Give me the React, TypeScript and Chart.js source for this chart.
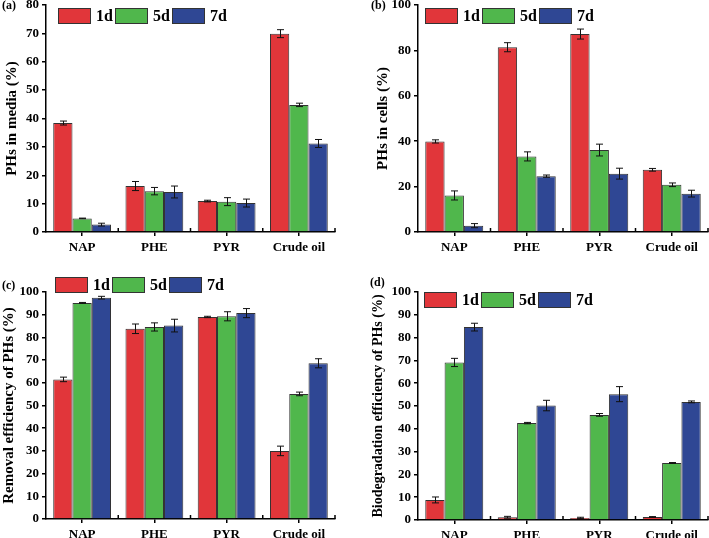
import React, { useEffect, useRef } from "react";
import { Chart, registerables } from "chart.js";

Chart.register(...registerables);

const categories = ["NAP", "PHE", "PYR", "Crude oil"];
const seriesLabels = ["1d", "5d", "7d"];
const seriesColors = ["#E1363A", "#50B74C", "#2F4794"];

// (a) PHs in media (%)
const mediaD1 = [38.4, 16.2, 10.9, 69.9];
const mediaD5 = [4.8, 14.4, 10.7, 44.8];
const mediaD7 = [2.6, 14.1, 10.2, 31.2];
const mediaErr1 = [0.7, 1.6, 0.3, 1.4];
const mediaErr5 = [0.1, 1.3, 1.4, 0.6];
const mediaErr7 = [0.5, 2.1, 1.4, 1.4];

// (b) PHs in cells (%)
const cellsD1 = [39.9, 81.4, 87.2, 27.4];
const cellsD5 = [16.1, 33.3, 36.1, 20.8];
const cellsD7 = [2.8, 24.6, 25.7, 16.9];
const cellsErr1 = [0.7, 2.0, 2.2, 0.6];
const cellsErr5 = [2.0, 2.0, 2.6, 0.8];
const cellsErr7 = [0.9, 0.5, 2.4, 1.5];

// (c) Removal efficiency of PHs (%)
const removalD1 = [61.5, 83.8, 89.0, 30.0];
const removalD5 = [95.2, 84.6, 89.3, 55.1];
const removalD7 = [97.5, 85.2, 90.7, 68.6];
const removalErr1 = [1.0, 2.1, 0.3, 2.1];
const removalErr5 = [0.2, 1.8, 2.0, 0.8];
const removalErr7 = [0.6, 2.8, 2.0, 2.0];

// (d) Biodegradation efficiency of PHs (%)
const biodegD1 = [8.8, 1.2, 0.9, 1.3];
const biodegD5 = [69.1, 42.5, 46.1, 25.0];
const biodegD7 = [84.6, 50.2, 55.2, 51.8];
const biodegErr1 = [1.3, 0.4, 0.3, 0.2];
const biodegErr5 = [1.8, 0.3, 0.6, 0.2];
const biodegErr7 = [1.7, 2.3, 3.3, 0.4];

const FONT = "'Liberation Serif', 'Times New Roman', serif";

type PanelCfg = {
  left: number;
  top: number;
  width: number;
  height: number;
  area: { left: number; top: number; right: number; bottom: number };
  scaleLeft: number;
  titlePad: number;
  titleSize: number;
  yMax: number;
  yStep: number;
  yTitle: string;
  tag: string;
  tagPos: [number, number];
  legendPos: [number, number];
  values: number[][];
  errors: number[][];
};

const panels: PanelCfg[] = [
  {
    left: 0, top: 0, width: 355, height: 270,
    area: { left: 46, top: 5, right: 335, bottom: 232 },
    scaleLeft: 0, titlePad: 3, titleSize: 15, yMax: 80, yStep: 10,
    yTitle: "PHs in media (%)", tag: "(a)", tagPos: [2, 6], legendPos: [58, 8],
    values: [mediaD1, mediaD5, mediaD7], errors: [mediaErr1, mediaErr5, mediaErr7],
  },
  {
    left: 355, top: 0, width: 354, height: 270,
    area: { left: 63, top: 5, right: 353, bottom: 232 },
    scaleLeft: 15, titlePad: 4, titleSize: 15, yMax: 100, yStep: 20,
    yTitle: "PHs in cells (%)", tag: "(b)", tagPos: [16, 6], legendPos: [70, 8],
    values: [cellsD1, cellsD5, cellsD7], errors: [cellsErr1, cellsErr5, cellsErr7],
  },
  {
    left: 0, top: 270, width: 355, height: 268,
    area: { left: 46, top: 22, right: 335, bottom: 249 },
    scaleLeft: 0, titlePad: 0, titleSize: 15, yMax: 100, yStep: 10,
    yTitle: "Removal efficiency of PHs (%)", tag: "(c)", tagPos: [2, 16], legendPos: [55, 7],
    values: [removalD1, removalD5, removalD7], errors: [removalErr1, removalErr5, removalErr7],
  },
  {
    left: 355, top: 270, width: 354, height: 268,
    area: { left: 63, top: 22, right: 353, bottom: 250 },
    scaleLeft: 11, titlePad: 4, titleSize: 14, yMax: 100, yStep: 10,
    yTitle: "Biodegradation efficiency of PHs (%)", tag: "(d)", tagPos: [15, 13], legendPos: [69, 22],
    values: [biodegD1, biodegD5, biodegD7], errors: [biodegErr1, biodegErr5, biodegErr7],
  },
];

function makeDecorPlugin(cfg: PanelCfg) {
  return {
    id: "decor" + cfg.tag,
    afterDatasetsDraw(chart: any) {
      const ctx = chart.ctx as CanvasRenderingContext2D;
      const y = chart.scales.y;
      ctx.save();
      ctx.strokeStyle = "#111";
      ctx.lineWidth = 1;
      chart.data.datasets.forEach((ds: any, di: number) => {
        const meta = chart.getDatasetMeta(di);
        meta.data.forEach((el: any, i: number) => {
          const v = ds.data[i];
          const e = cfg.errors[di][i];
          const x = Math.round(el.x) + 0.5;
          const yt = y.getPixelForValue(v + e);
          const yb = y.getPixelForValue(v - e);
          ctx.beginPath();
          ctx.moveTo(x, yt);
          ctx.lineTo(x, yb);
          ctx.moveTo(x - 3.5, yt);
          ctx.lineTo(x + 3.5, yt);
          ctx.moveTo(x - 3.5, yb);
          ctx.lineTo(x + 3.5, yb);
          ctx.stroke();
        });
      });
      ctx.restore();
    },
    afterDraw(chart: any) {
      const ctx = chart.ctx as CanvasRenderingContext2D;
      const { left, right, bottom } = chart.chartArea;
      ctx.save();
      ctx.strokeStyle = "#000";
      ctx.lineWidth = 1.5;
      const n = categories.length;
      for (let k = 1; k <= n; k++) {
        const x = left + ((right - left) * k) / n;
        ctx.beginPath();
        ctx.moveTo(x, bottom);
        ctx.lineTo(x, bottom - 4);
        ctx.stroke();
      }
      ctx.fillStyle = "#000";
      ctx.font = `bold 12px ${FONT}`;
      ctx.textAlign = "left";
      ctx.textBaseline = "middle";
      ctx.fillText(cfg.tag, cfg.tagPos[0], cfg.tagPos[1]);
      const [lx, ly] = cfg.legendPos;
      const bw = 33, bh = 16, pitch = 57;
      ctx.font = `bold 16px ${FONT}`;
      seriesLabels.forEach((lab, i) => {
        const bx = lx + i * pitch;
        ctx.fillStyle = seriesColors[i];
        ctx.fillRect(bx, ly, bw, bh);
        ctx.strokeStyle = "#333";
        ctx.lineWidth = 1;
        ctx.strokeRect(bx + 0.5, ly + 0.5, bw - 1, bh - 1);
        ctx.fillStyle = "#000";
        ctx.fillText(lab, bx + bw + 5, ly + bh / 2 + 1);
      });
      ctx.restore();
    },
  };
}

function Panel({ cfg }: { cfg: PanelCfg }) {
  const ref = useRef<HTMLCanvasElement | null>(null);
  useEffect(() => {
    if (!ref.current) return;
    const chart = new Chart(ref.current, {
      type: "bar",
      data: {
        labels: categories,
        datasets: seriesLabels.map((lab, i) => ({
          label: lab,
          data: cfg.values[i],
          backgroundColor: seriesColors[i],
          borderColor: "#333",
          borderWidth: 1,
          categoryPercentage: 0.8,
          barPercentage: 1.0,
        })),
      },
      options: {
        responsive: false,
        animation: false,
        devicePixelRatio: 1,
        layout: {
          padding: {
            left: cfg.scaleLeft,
            top: cfg.area.top,
            right: cfg.width - cfg.area.right,
            bottom: 0,
          },
        },
        plugins: { legend: { display: false }, tooltip: { enabled: false } },
        scales: {
          x: {
            offset: true,
            afterFit: (s: any) => {
              s.height = cfg.height - cfg.area.bottom;
              s.paddingLeft = 0;
              s.paddingRight = 0;
            },
            grid: {
              display: true,
              drawOnChartArea: false,
              drawTicks: true,
              tickLength: 4,
              offset: false,
              color: "#000",
              lineWidth: 1.5,
            },
            border: { display: true, color: "#000", width: 1.5 },
            ticks: {
              color: "#000",
              font: { family: FONT, size: 13, weight: "bold" },
              padding: 4,
              maxRotation: 0,
              autoSkip: false,
            },
          },
          y: {
            min: 0,
            max: cfg.yMax,
            afterFit: (s: any) => {
              s.width = cfg.area.left - cfg.scaleLeft;
              s.paddingTop = 0;
              s.paddingBottom = 0;
            },
            grid: {
              display: true,
              drawOnChartArea: false,
              drawTicks: true,
              tickLength: 4,
              color: "#000",
              lineWidth: 1.5,
            },
            border: { display: true, color: "#000", width: 1.5 },
            ticks: {
              stepSize: cfg.yStep,
              color: "#000",
              font: { family: FONT, size: 13, weight: "bold" },
              padding: 3,
            },
            title: {
              display: true,
              text: cfg.yTitle,
              color: "#000",
              font: { family: FONT, size: cfg.titleSize, weight: "bold" },
              padding: { top: cfg.titlePad, bottom: 0 },
            },
          },
        },
      },
      plugins: [makeDecorPlugin(cfg)],
    } as any);
    return () => chart.destroy();
  }, [cfg]);
  return (
    <div
      style={{
        position: "absolute",
        left: cfg.left,
        top: cfg.top,
        width: cfg.width,
        height: cfg.height,
      }}
    >
      <canvas ref={ref} width={cfg.width} height={cfg.height} style={{ display: "block" }} />
    </div>
  );
}

export default function App() {
  return (
    <div
      style={{
        position: "absolute",
        left: 0,
        top: 0,
        width: 709,
        height: 538,
        background: "#fff",
        overflow: "hidden",
      }}
    >
      {panels.map((p) => (
        <Panel key={p.tag} cfg={p} />
      ))}
    </div>
  );
}
